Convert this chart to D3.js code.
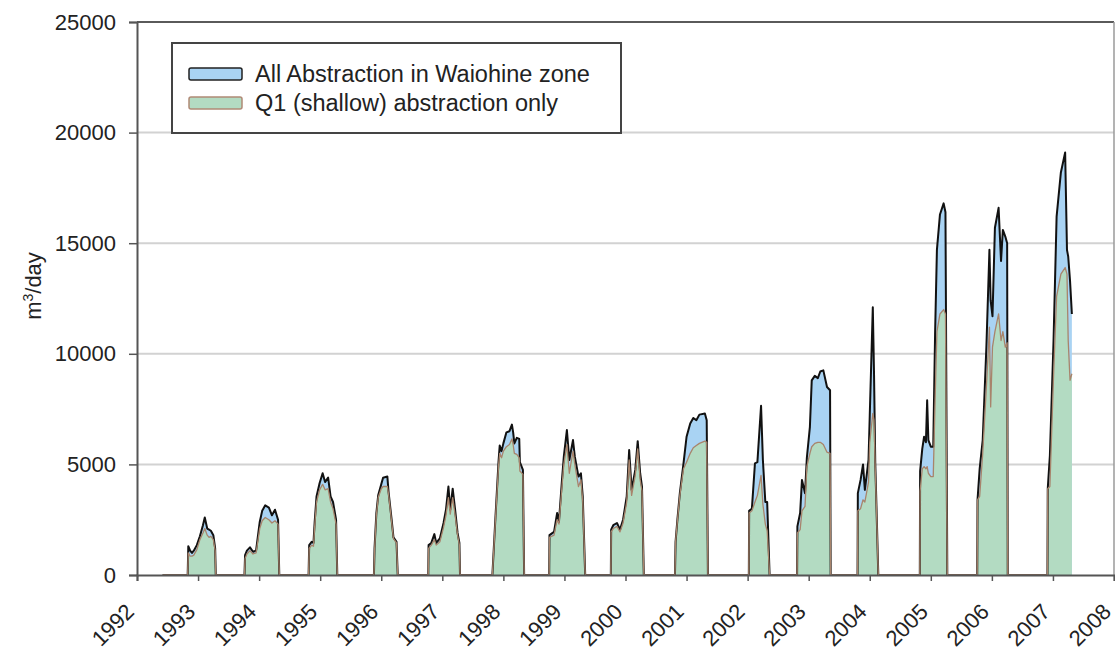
<!DOCTYPE html>
<html>
<head>
<meta charset="utf-8">
<script src="https://cdn.jsdelivr.net/npm/d3@7"></script>
<style>
  body { margin: 0; background: #fff; }
  svg { display: block; font-family: "Liberation Sans", Arial, sans-serif; }
</style>
</head>
<body>
<svg id="chart" width="1115" height="653"></svg>
<script>
// each season: [decimal year, all abstraction, Q1 (shallow) only], m3/day
var season1993 = [[1992.83,0,0],[1992.84,1300,1000],[1992.87,1100,850],[1992.90,1000,850],[1992.93,1100,900],[1992.98,1350,1150],[1993.03,1750,1600],[1993.08,2250,1900],[1993.11,2600,2100],[1993.15,2100,1800],[1993.18,2050,1700],[1993.21,2000,1750],[1993.25,1800,1600],[1993.28,1200,1100],[1993.29,0,0]];
var season1994 = [[1993.76,0,0],[1993.77,900,750],[1993.80,1100,950],[1993.85,1250,1100],[1993.90,1050,950],[1993.95,1100,1000],[1994.01,2400,2100],[1994.05,2900,2450],[1994.10,3150,2600],[1994.16,3050,2500],[1994.21,2700,2350],[1994.26,2950,2450],[1994.31,2500,2300],[1994.33,0,0]];
var season1995 = [[1994.81,0,0],[1994.82,1350,1200],[1994.86,1500,1350],[1994.89,1450,1300],[1994.91,2400,2200],[1994.94,3550,3300],[1994.99,4150,3850],[1995.04,4600,4100],[1995.08,4200,3850],[1995.13,4400,3900],[1995.17,3550,3300],[1995.21,3300,3000],[1995.26,2500,2300],[1995.28,0,0]];
var season1996 = [[1995.88,0,0],[1995.89,1200,1100],[1995.92,2800,2700],[1995.95,3600,3500],[1996.00,4100,3900],[1996.03,4400,4000],[1996.10,4450,4000],[1996.12,3750,3650],[1996.17,2500,2400],[1996.20,1700,1650],[1996.25,1500,1450],[1996.27,0,0]];
var season1997 = [[1996.77,0,0],[1996.775,1350,1200],[1996.82,1450,1350],[1996.87,1850,1600],[1996.90,1450,1350],[1996.96,1650,1500],[1997.02,2350,2150],[1997.06,2950,2700],[1997.10,4000,3500],[1997.13,2950,2750],[1997.17,3900,3500],[1997.21,2950,2700],[1997.25,1900,1800],[1997.28,1450,1350],[1997.29,0,0]];
var season1998 = [[1997.82,0,0],[1997.87,2600,2500],[1997.92,5100,4900],[1997.94,5850,5500],[1997.97,5600,5300],[1998.00,5950,5600],[1998.05,6450,5800],[1998.10,6500,5900],[1998.14,6800,6150],[1998.16,6450,5900],[1998.18,5950,5500],[1998.22,6200,5450],[1998.26,6150,5300],[1998.27,5100,4700],[1998.32,4750,4550],[1998.34,0,0]];
var season1999 = [[1998.75,0,0],[1998.755,1800,1700],[1998.83,1950,1800],[1998.88,2800,2500],[1998.91,2400,2300],[1998.96,4300,4000],[1998.99,5350,5000],[1999.04,6550,5900],[1999.08,5200,4600],[1999.14,6100,5600],[1999.17,5350,5000],[1999.23,4450,4000],[1999.27,4600,4300],[1999.30,3550,3350],[1999.34,0,0]];
var season2000 = [[1999.76,0,0],[1999.765,2050,1950],[1999.80,2250,2100],[1999.86,2350,2200],[1999.91,2050,1950],[1999.96,2500,2350],[2000.02,3550,3300],[2000.06,5650,5200],[2000.10,3850,3600],[2000.16,4750,4500],[2000.20,6050,5700],[2000.24,4600,4300],[2000.27,4000,3800],[2000.30,0,0]];
var season2001 = [[2000.81,0,0],[2000.82,1500,1500],[2000.85,2500,2450],[2000.89,3700,3600],[2000.95,5050,4800],[2001.00,6250,5100],[2001.06,6850,5500],[2001.11,7100,5750],[2001.16,7000,5850],[2001.21,7250,5950],[2001.30,7300,6050],[2001.33,7000,6000],[2001.35,0,0]];
var season2002 = [[2002.02,0,0],[2002.025,2900,2800],[2002.07,3000,2900],[2002.12,5050,3300],[2002.16,5100,3600],[2002.22,7650,4500],[2002.25,5200,3200],[2002.29,3300,2300],[2002.32,3300,2000],[2002.36,0,0]];
var season2003 = [[2002.81,0,0],[2002.815,2200,1900],[2002.86,2800,2050],[2002.89,4300,2900],[2002.94,3700,3100],[2002.97,5300,4900],[2003.02,6700,5500],[2003.05,8800,5800],[2003.10,9000,5950],[2003.15,8900,6000],[2003.19,9200,6000],[2003.24,9250,5900],[2003.30,8500,5550],[2003.35,8350,5500],[2003.36,0,0]];
var season2004 = [[2003.80,0,0],[2003.805,3700,2900],[2003.85,4300,3000],[2003.89,5000,3400],[2003.92,3850,3300],[2003.98,5200,4200],[2004.00,7200,6000],[2004.05,12100,7300],[2004.07,9100,7000],[2004.09,5100,4800],[2004.11,3100,3000],[2004.14,0,0]];
var season2005 = [[2004.82,0,0],[2004.825,4700,3800],[2004.86,5700,4800],[2004.89,6250,4900],[2004.92,6000,4800],[2004.94,7900,4900],[2004.96,6100,4600],[2005.00,5800,4450],[2005.04,5800,4450],[2005.07,10900,7900],[2005.10,14700,11000],[2005.15,16300,11800],[2005.21,16800,12000],[2005.24,16400,11800],[2005.27,0,0]];
var season2006 = [[2005.76,0,0],[2005.765,3400,3400],[2005.80,4800,3550],[2005.85,6100,5500],[2005.91,10300,8500],[2005.96,14700,11200],[2005.98,12400,7600],[2006.01,11700,10300],[2006.05,15700,11000],[2006.11,16600,11800],[2006.15,14200,10600],[2006.18,15600,11000],[2006.22,15300,10300],[2006.25,15000,10500],[2006.26,0,0]];
var season2007 = [[2006.91,0,0],[2006.915,3900,3900],[2006.95,5400,4000],[2007.01,10600,9000],[2007.06,16200,12600],[2007.13,18200,13600],[2007.20,19100,13900],[2007.23,14700,13600],[2007.25,14400,10600],[2007.28,13300,8800],[2007.31,11800,9100]];

var yTicks = [0, 5000, 10000, 15000, 20000, 25000];
var xTicks = d3.range(1992, 2009);
var seriesNames = ["All Abstraction in Waiohine zone", "Q1 (shallow) abstraction only"];

var rows = [[1992.42, 0, 0]].concat(season1993, season1994, season1995, season1996, season1997,
    season1998, season1999, season2000, season2001, season2002, season2003, season2004,
    season2005, season2006, season2007);
var data = rows.map(function (r) { return { t: r[0], all: r[1], q1: r[2] }; });

var svg = d3.select("#chart");
var plotLeft = 137, plotRight = 1114, plotTop = 22, plotBottom = 575;

var x = d3.scaleLinear().domain([1992, 2008]).range([plotLeft, plotRight]);
var y = d3.scaleLinear().domain([0, 25000]).range([plotBottom, plotTop]);

// gridlines
svg.append("g").selectAll("line")
    .data(yTicks.slice(1, -1)).enter().append("line")
    .attr("x1", plotLeft).attr("x2", plotRight)
    .attr("y1", function (d) { return y(d); }).attr("y2", function (d) { return y(d); })
    .attr("stroke", "#d2d2d2").attr("stroke-width", 2);

// frame top + right
svg.append("line").attr("x1", plotLeft).attr("x2", plotRight).attr("y1", y(25000)).attr("y2", y(25000))
    .attr("stroke", "#5a5a5a").attr("stroke-width", 2);
svg.append("line").attr("x1", plotRight).attr("x2", plotRight).attr("y1", y(25000)).attr("y2", y(0))
    .attr("stroke", "#9a9a9a").attr("stroke-width", 1.5);

var areaAll = d3.area().x(function (d) { return x(d.t); }).y0(y(0)).y1(function (d) { return y(d.all); });
var areaQ1 = d3.area().x(function (d) { return x(d.t); }).y0(y(0)).y1(function (d) { return y(d.q1); });
var lineAll = d3.line().x(function (d) { return x(d.t); }).y(function (d) { return y(d.all); });
var lineQ1 = d3.line().x(function (d) { return x(d.t); }).y(function (d) { return y(d.q1); });

svg.append("path").datum(data).attr("d", areaAll).attr("fill", "#a9d3f3");
svg.append("path").datum(data).attr("d", areaQ1).attr("fill", "#b3dbc2");
svg.append("path").datum(data).attr("d", lineAll).attr("fill", "none")
    .attr("stroke", "#111").attr("stroke-width", 2).attr("stroke-linejoin", "round");
svg.append("path").datum(data).attr("d", lineQ1).attr("fill", "none")
    .attr("stroke", "#a8846c").attr("stroke-width", 1.3).attr("stroke-linejoin", "round");

// axes
var yAxis = svg.append("g").attr("transform", "translate(" + plotLeft + ",0)")
    .call(d3.axisLeft(y).tickValues(yTicks).tickSize(8).tickPadding(13).tickFormat(d3.format("d")));
var xAxis = svg.append("g").attr("transform", "translate(0," + plotBottom + ")")
    .call(d3.axisBottom(x).tickValues(xTicks).tickSize(6).tickFormat(d3.format("d")));

[yAxis, xAxis].forEach(function (g) {
    g.select(".domain").attr("stroke", "#555").attr("stroke-width", 2);
    g.selectAll(".tick line").attr("stroke", "#555").attr("stroke-width", 1.5);
    g.selectAll("text").attr("fill", "#222").style("font-size", "22px");
});
xAxis.selectAll("text")
    .attr("y", 0).attr("dy", 0)
    .attr("text-anchor", "end")
    .attr("transform", "translate(-2,38) rotate(-45)");

// y title
var yTitle = svg.append("text")
    .attr("transform", "translate(41,286) rotate(-90)")
    .attr("text-anchor", "middle").attr("fill", "#222").style("font-size", "22px");
yTitle.append("tspan").text("m");
yTitle.append("tspan").text("3").attr("baseline-shift", "super").style("font-size", "14px");
yTitle.append("tspan").text("/day");

// legend
var legend = svg.append("g");
legend.append("rect").attr("x", 172).attr("y", 43).attr("width", 449).attr("height", 90)
    .attr("fill", "#fff").attr("stroke", "#444").attr("stroke-width", 2);
var swatches = [{ fill: "#a9d3f3", stroke: "#222" }, { fill: "#b3dbc2", stroke: "#b08a76" }];
seriesNames.forEach(function (name, i) {
    var yy = 68 + i * 29;
    legend.append("rect").attr("x", 189).attr("y", yy).attr("width", 53).attr("height", 12)
        .attr("rx", 2).attr("fill", swatches[i].fill).attr("stroke", swatches[i].stroke).attr("stroke-width", 1.5);
    legend.append("text").attr("x", 255).attr("y", yy + 6).attr("dy", "0.36em")
        .attr("fill", "#222").style("font-size", "23.5px").text(name);
});
</script>
</body>
</html>
